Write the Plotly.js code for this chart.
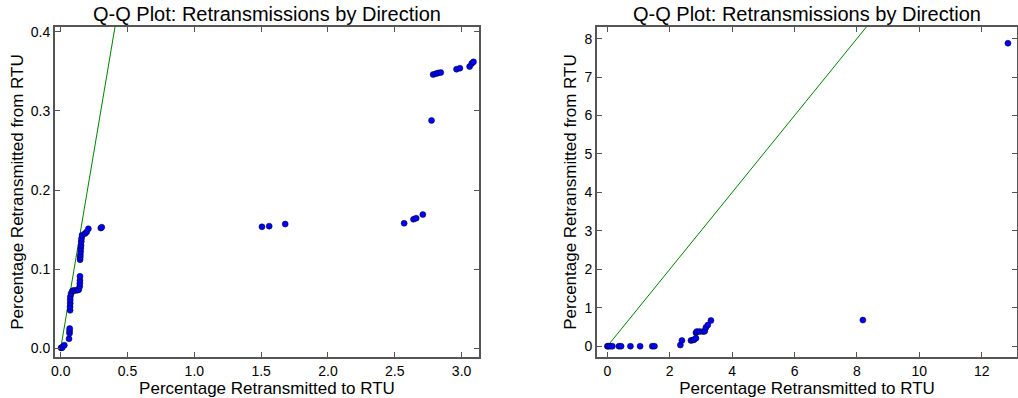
<!DOCTYPE html>
<html>
<head>
<meta charset="utf-8">
<script src="https://cdn.plot.ly/plotly-3.0.1.min.js"></script>
<style>html,body{margin:0;padding:0;background:#fff;}#chart{width:1018px;height:398px;}</style>
</head>
<body>
<div id="chart"></div>
<script>
// Left panel: quantiles (percentage retransmitted to RTU vs from RTU)
const leftX = [0.003, 0.007, 0.012, 0.027, 0.062, 0.066, 0.066, 0.067, 0.070, 0.070, 0.071, 0.071, 0.072, 0.077, 0.086, 0.094, 0.107, 0.124, 0.135, 0.142, 0.143, 0.144, 0.144, 0.145, 0.146, 0.147, 0.149, 0.150, 0.152, 0.154, 0.156, 0.160, 0.182, 0.194, 0.207, 0.300, 0.307, 1.506, 1.56, 1.68, 2.57, 2.64, 2.66, 2.71, 2.775, 2.787, 2.807, 2.824, 2.844, 2.962, 2.987, 3.06, 3.076, 3.089];
const leftY = [0.0005, 0.001, 0.001, 0.004, 0.012, 0.019, 0.022, 0.025, 0.048, 0.0525, 0.057, 0.061, 0.065, 0.069, 0.072, 0.073, 0.073, 0.0735, 0.074, 0.078, 0.082, 0.086, 0.091, 0.112, 0.115, 0.118, 0.122, 0.126, 0.130, 0.135, 0.139, 0.143, 0.145, 0.147, 0.151, 0.152, 0.153, 0.1535, 0.1544, 0.157, 0.158, 0.163, 0.1645, 0.169, 0.288, 0.346, 0.347, 0.348, 0.3485, 0.3527, 0.354, 0.356, 0.360, 0.362];

// Right panel
const rightX = [0.0, 0.03, 0.09, 0.16, 0.37, 0.44, 0.74, 1.05, 1.44, 1.51, 2.34, 2.39, 2.68, 2.74, 2.78, 2.84, 2.84, 2.87, 2.96, 3.07, 3.12, 3.16, 3.22, 3.32, 8.19, 12.84];
const rightY = [0, 0, 0, 0, 0, 0, 0, 0, 0, 0, 0.03, 0.15, 0.15, 0.16, 0.17, 0.21, 0.35, 0.38, 0.38, 0.38, 0.39, 0.49, 0.55, 0.67, 0.68, 7.88];

const titleText = "Q-Q Plot: Retransmissions by Direction";
const xTitle = "Percentage Retransmitted to RTU";
const yTitle = "Percentage Retransmitted from RTU";
const leftXTicks = [0, 0.5, 1.0, 1.5, 2.0, 2.5, 3.0];
const leftYTicks = [0, 0.1, 0.2, 0.3, 0.4];
const rightXTicks = [0, 2, 4, 6, 8, 10, 12];
const rightYTicks = [0, 1, 2, 3, 4, 5, 6, 7, 8];

const FONT = "Liberation Sans, Arial, sans-serif";
const marker = {color: '#0000ff', size: 6, line: {color: '#000000', width: 0.5}};
const lineL = Math.max(...leftX, ...leftY);
const lineR = Math.max(...rightX, ...rightY);

const traces = [
  {x: [0, lineL], y: [0, lineL], mode: 'lines', line: {color: '#008000', width: 1}, xaxis: 'x', yaxis: 'y', hoverinfo: 'skip'},
  {x: leftX, y: leftY, mode: 'markers', marker: marker, xaxis: 'x', yaxis: 'y'},
  {x: [0, lineR], y: [0, lineR], mode: 'lines', line: {color: '#008000', width: 1}, xaxis: 'x2', yaxis: 'y2', hoverinfo: 'skip'},
  {x: rightX, y: rightY, mode: 'markers', marker: marker, xaxis: 'x2', yaxis: 'y2'}
];

const tfont = {family: FONT, size: 17, color: '#000'};
function axis(extra) {
  return Object.assign({
    showgrid: false, zeroline: false, showline: true, linecolor: '#555555', linewidth: 2,
    mirror: 'ticks', ticks: 'inside', ticklen: 5, tickwidth: 1, tickcolor: '#555555',
    tickfont: {family: FONT, size: 14, color: '#000'}
  }, extra);
}

const yDom = [0.103, 0.932];
const layout = {
  width: 1018, height: 398,
  margin: {l: 0, r: 0, t: 0, b: 0},
  paper_bgcolor: '#fff', plot_bgcolor: '#fff',
  showlegend: false,
  xaxis: axis({domain: [0.054, 0.4705], range: [-0.043, 3.13], tickvals: leftXTicks, tickformat: '.1f', anchor: 'y',
    title: {text: xTitle, standoff: 2, font: tfont}}),
  yaxis: axis({domain: yDom, range: [-0.011, 0.406], tickvals: leftYTicks, tickformat: '.1f', anchor: 'x',
    title: {text: yTitle, standoff: 3, font: tfont}}),
  xaxis2: axis({domain: [0.5865, 0.999], range: [-0.33, 13.13], tickvals: rightXTicks, tickformat: 'd', anchor: 'y2',
    title: {text: xTitle, standoff: 2, font: tfont}}),
  yaxis2: axis({domain: yDom, range: [-0.28, 8.30], tickvals: rightYTicks, tickformat: 'd', anchor: 'x2',
    title: {text: yTitle, standoff: 4, font: tfont}}),
  annotations: [
    {text: titleText, xref: 'paper', yref: 'paper', x: (0.054 + 0.4705) / 2, y: 0.932, xanchor: 'center', yanchor: 'bottom', yshift: 0, showarrow: false, font: {family: FONT, size: 20, color: '#000'}},
    {text: titleText, xref: 'paper', yref: 'paper', x: (0.5865 + 0.999) / 2, y: 0.932, xanchor: 'center', yanchor: 'bottom', yshift: 0, showarrow: false, font: {family: FONT, size: 20, color: '#000'}}
  ]
};

Plotly.newPlot('chart', traces, layout, {displayModeBar: false, staticPlot: true});
</script>
</body>
</html>
